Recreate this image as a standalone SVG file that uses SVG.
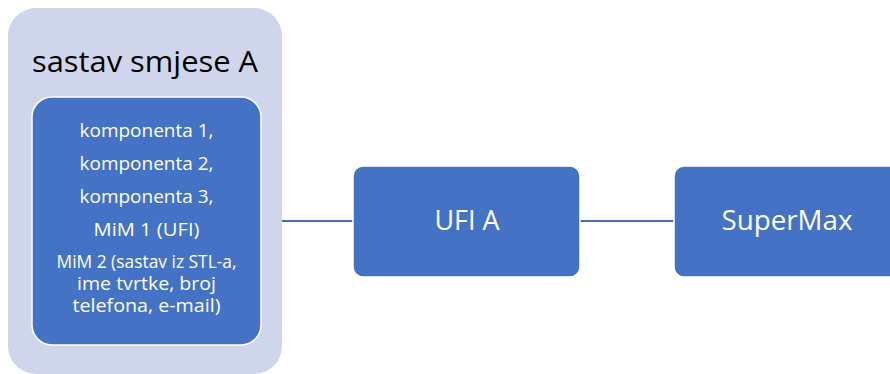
<svg xmlns="http://www.w3.org/2000/svg" width="890" height="374" viewBox="0 0 890 374">
<style>
.box{fill:#4472C4;stroke:#FFFFFF;stroke-width:1.5}
.wt{fill:#FFFFFF;font-family:"Open Sans","Liberation Sans",sans-serif;text-anchor:middle}
.sm{font-size:18px}
.lg{font-size:28px}
.conn{stroke:#4A6CB0;stroke-width:2;fill:none}
</style>
<rect width="890" height="374" fill="#FFFFFF"/>
<g id="connectors">
<line class="conn" x1="261" y1="221" x2="353" y2="221"/>
<line class="conn" x1="580" y1="221" x2="674" y2="221"/>
</g>
<g id="sastav-smjese-A">
<rect x="8" y="8" width="274" height="366" rx="28" fill="#CFD5EA"/>
<text x="145" y="72" font-family="Open Sans, Liberation Sans, sans-serif" font-size="30" fill="#000000" text-anchor="middle" textLength="226" lengthAdjust="spacingAndGlyphs">sastav smjese A</text>
</g>
<g id="komponente">
<rect class="box" x="32" y="97" width="229" height="248" rx="20"/>
<text class="wt sm" x="146.5" y="137" textLength="134" lengthAdjust="spacingAndGlyphs">komponenta 1,</text>
<text class="wt sm" x="146.5" y="170" textLength="134" lengthAdjust="spacingAndGlyphs">komponenta 2,</text>
<text class="wt sm" x="146.5" y="203" textLength="134" lengthAdjust="spacingAndGlyphs">komponenta 3,</text>
<text class="wt sm" x="146.5" y="236" textLength="106" lengthAdjust="spacingAndGlyphs">MiM 1 (UFI)</text>
<text class="wt sm" x="146.5" y="268" textLength="180" lengthAdjust="spacingAndGlyphs">MiM 2 (sastav iz STL-a,</text>
<text class="wt sm" x="146.5" y="290" textLength="139" lengthAdjust="spacingAndGlyphs">ime tvrtke, broj</text>
<text class="wt sm" x="146.5" y="312" textLength="148" lengthAdjust="spacingAndGlyphs">telefona, e-mail)</text>
</g>
<g id="ufi-a">
<rect class="box" x="353" y="166" width="227" height="111" rx="10"/>
<text class="wt lg" x="467" y="230" textLength="65" lengthAdjust="spacingAndGlyphs">UFI A</text>
</g>
<g id="supermax">
<rect class="box" x="674" y="166" width="227" height="111" rx="10"/>
<text class="wt lg" x="787" y="230" textLength="131" lengthAdjust="spacingAndGlyphs">SuperMax</text>
</g>
</svg>
